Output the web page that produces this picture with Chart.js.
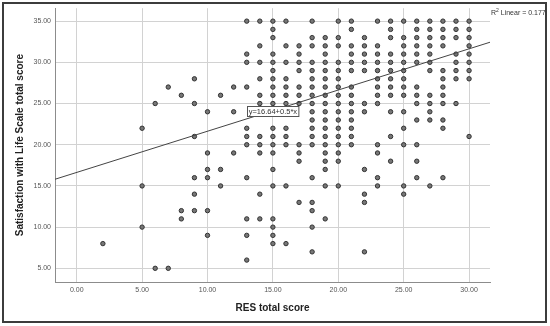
<!DOCTYPE html>
<html>
<head>
<meta charset="utf-8">
<script src="https://cdn.jsdelivr.net/npm/chart.js@4.4.1/dist/chart.umd.min.js"></script>
<style>
  html, body { margin: 0; padding: 0; background: #fff; }
  #wrap { width: 550px; height: 326px; position: relative; }
</style>
</head>
<body>
<div id="wrap"><canvas id="chart" width="550" height="326"></canvas></div>
<script>
// Satisfaction with Life Scale total score levels (rows of the scatter)
const lifeScores = [35, 34, 33, 32, 31, 30, 29, 28, 27, 26, 25, 24, 23, 22, 21, 20,
                    19, 18, 17, 16, 15, 14, 13, 12, 11, 10, 9, 8, 7, 6, 5];

// RES total scores observed at each life score level above
const resScoresAt = [
  [13, 14, 15, 16, 18, 20, 21, 23, 24, 25, 26, 27, 28, 29, 30],
  [15, 21, 24, 26, 27, 28, 29, 30],
  [15, 18, 19, 20, 22, 24, 25, 26, 27, 28, 29, 30],
  [14, 16, 17, 18, 19, 20, 21, 22, 23, 25, 26, 27, 28, 30],
  [13, 15, 17, 19, 21, 22, 23, 24, 25, 26, 27, 29, 30],
  [13, 14, 15, 16, 17, 18, 19, 20, 21, 22, 23, 24, 25, 26, 27, 29, 30],
  [15, 17, 18, 19, 20, 21, 22, 23, 24, 25, 27, 28, 29, 30],
  [9, 14, 15, 16, 18, 19, 20, 23, 24, 25, 28, 29, 30],
  [7, 12, 13, 15, 16, 17, 18, 19, 20, 21, 23, 24, 25, 26, 28],
  [8, 11, 14, 15, 16, 17, 18, 19, 20, 21, 23, 24, 25, 26, 27, 28],
  [6, 9, 14, 15, 16, 17, 18, 19, 20, 21, 22, 23, 26, 27, 28, 29],
  [10, 12, 14, 15, 16, 18, 19, 20, 21, 22, 24, 25, 27],
  [18, 19, 20, 21, 26, 27, 28],
  [5, 13, 15, 16, 18, 19, 20, 21, 25, 28],
  [9, 13, 14, 15, 16, 18, 19, 20, 21, 24, 30],
  [13, 14, 15, 16, 17, 18, 19, 20, 21, 23, 25, 26],
  [10, 12, 14, 15, 17, 19, 20, 23],
  [17, 19, 20, 24, 26],
  [10, 11, 15, 19, 22],
  [9, 10, 13, 18, 23, 26, 28],
  [5, 11, 15, 16, 19, 20, 23, 25, 27],
  [9, 14, 22, 25],
  [17, 18, 22],
  [8, 9, 10, 18],
  [8, 13, 14, 15, 19],
  [5, 15, 18],
  [10, 13, 15],
  [2, 15, 16],
  [18, 22],
  [13],
  [6, 7]
];

// Fit line and axis ticks
const fitIntercept = 16.64;
const fitSlope = 0.5;
const rSquared = 0.177;
const fitLabel = 'y=16.64+0.5*x';
const xTicks = [0, 5, 10, 15, 20, 25, 30];
const yTicks = [5, 10, 15, 20, 25, 30, 35];
const xRange = [-1.66, 31.6];
const yRange = [3.34, 36.57];

const points = [];
lifeScores.forEach((life, i) => {
  resScoresAt[i].forEach(res => points.push({ x: res, y: life }));
});

const fitLine = xRange.map(x => ({ x: x, y: fitIntercept + fitSlope * x }));

const FONT = "'Liberation Sans', Arial, sans-serif";

// Outer frame, fit label box and R² note
const decorPlugin = {
  id: 'decor',
  beforeDraw(chart) {
    const c = chart.ctx;
    c.save();
    c.fillStyle = '#fff';
    c.fillRect(0, 0, chart.width, chart.height);
    c.restore();
  },
  afterDraw(chart) {
    const c = chart.ctx;
    const xs = chart.scales.x, ys = chart.scales.y;
    c.save();

    // label on the fit line
    const lx = 15;
    const px = xs.getPixelForValue(lx);
    const py = ys.getPixelForValue(fitIntercept + fitSlope * lx);
    c.font = '7.5px ' + FONT;
    const tw = c.measureText(fitLabel).width;
    const bw = tw + 3, bh = 10;
    c.fillStyle = '#fff';
    c.fillRect(Math.round(px - bw / 2) + 0.5, Math.round(py - bh / 2) + 0.5, bw, bh);
    c.strokeStyle = '#555';
    c.lineWidth = 1;
    c.strokeRect(Math.round(px - bw / 2) + 0.5, Math.round(py - bh / 2) + 0.5, bw, bh);
    c.fillStyle = '#333';
    c.textBaseline = 'middle';
    c.textAlign = 'center';
    c.fillText(fitLabel, px, py + 1);

    // R² Linear note
    const area = chart.chartArea;
    let tx = area.right + 1;
    const ty = 13;
    c.textAlign = 'left';
    c.fillStyle = '#333';
    c.font = '7px ' + FONT;
    c.fillText('R', tx, ty);
    tx += c.measureText('R').width;
    c.font = '5px ' + FONT;
    c.fillText('2', tx, ty - 2.5);
    tx += c.measureText('2').width;
    c.font = '7px ' + FONT;
    c.fillText(' Linear = ' + rSquared.toFixed(3), tx, ty);

    // frame
    c.strokeStyle = '#3c3c3c';
    c.lineWidth = 2;
    c.strokeRect(3, 3, 543, 319);
    c.restore();
  }
};

new Chart(document.getElementById('chart'), {
  type: 'scatter',
  data: {
    datasets: [
      {
        type: 'line',
        data: fitLine,
        borderColor: '#444',
        borderWidth: 1,
        pointRadius: 0,
        fill: false,
        order: 0
      },
      {
        data: points,
        pointRadius: 2.2,
        pointBackgroundColor: '#777',
        pointBorderColor: '#333',
        pointBorderWidth: 1,
        order: 1
      }
    ]
  },
  options: {
    responsive: false,
    animation: false,
    devicePixelRatio: 1,
    layout: { padding: { left: 8, right: 60, top: 7, bottom: 8 } },
    plugins: {
      legend: { display: false },
      tooltip: { enabled: false }
    },
    scales: {
      x: {
        type: 'linear',
        min: xRange[0],
        max: xRange[1],
        afterFit: s => { s.height = 36; },
        afterBuildTicks: s => { s.ticks = xTicks.map(v => ({ value: v })); },
        grid: { color: '#d2d2d2', drawTicks: false },
        border: { color: '#8c8c8c' },
        ticks: {
          padding: 4,
          color: '#555',
          font: { family: FONT, size: 7 },
          maxRotation: 0,
          callback: v => Number(v).toFixed(2)
        },
        title: {
          display: true,
          text: 'RES total score',
          color: '#222',
          font: { family: FONT, size: 10, weight: 'bold' },
          padding: { top: 0, bottom: 4 }
        }
      },
      y: {
        type: 'linear',
        min: yRange[0],
        max: yRange[1],
        afterFit: s => { s.width = 47; },
        afterBuildTicks: s => { s.ticks = yTicks.map(v => ({ value: v })); },
        grid: { color: '#d2d2d2', drawTicks: false },
        border: { color: '#8c8c8c' },
        ticks: {
          padding: 4,
          color: '#555',
          font: { family: FONT, size: 7 },
          callback: v => Number(v).toFixed(2)
        },
        title: {
          display: true,
          text: 'Satisfaction with Life Scale total score',
          color: '#222',
          font: { family: FONT, size: 10, weight: 'bold' },
          padding: { top: 6, bottom: 0 }
        }
      }
    }
  },
  plugins: [decorPlugin]
});
</script>
</body>
</html>
